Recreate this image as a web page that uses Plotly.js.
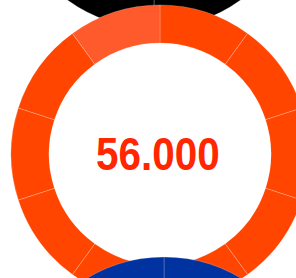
<!DOCTYPE html>
<html>
<head>
<meta charset="utf-8">
<script src="https://cdn.plot.ly/plotly-3.0.1.min.js"></script>
<style>
html,body{margin:0;padding:0;width:296px;height:278px;overflow:hidden;background:#fff;}
#chart{position:absolute;left:-50px;top:-400px;width:400px;height:1200px;}
#chart text.annotation-text{transform-box:fill-box;transform-origin:center;transform:scaleX(0.86);}
</style>
</head>
<body>
<div id="chart"></div>
<script>
// Data
const segmentLabels = ["S1","S2","S3","S4","S5","S6","S7","S8","S9","S10"];
const segmentValues = [1,1,1,1,1,1,1,1,1,1];
const centerValue = "56.000";

const orangeColors = ["#FF4500","#FF4500","#FF4500","#FF4500","#FF4500","#FF4500","#FF4500","#FF4500","#FF4500","#FF5A2B"];
const blackColors = segmentLabels.map(() => "#000000");
const blueColors = segmentLabels.map(() => "#0033A0");

const W = 400, H = 1200;
function dom(cx, cy, r) {
  return {
    x: [(cx - r) / W, (cx + r) / W],
    y: [1 - (cy + r) / H, 1 - (cy - r) / H]
  };
}
// centres in div pixels (page + offset)
const blackDom = dom(154 + 50, -120 + 400, 148);
const orangeDom = dom(160 + 50, 154 + 400, 149);
const blueDom = dom(164 + 50, 407 + 400, 150);

function pie(colors, domain, lineColor) {
  return {
    type: "pie",
    labels: segmentLabels,
    values: segmentValues,
    sort: false,
    direction: "clockwise",
    rotation: 0,
    hole: 0.745,
    textinfo: "none",
    hoverinfo: "none",
    marker: {colors: colors, line: {color: lineColor, width: 0.7}},
    domain: domain,
    showlegend: false
  };
}

const data = [
  pie(blackColors, blackDom, "rgba(255,255,255,0.35)"),
  pie(orangeColors, orangeDom, "rgba(255,255,255,0.3)"),
  pie(blueColors, blueDom, "rgba(255,255,255,0.3)")
];

const layout = {
  width: W, height: H,
  margin: {l: 0, r: 0, t: 0, b: 0},
  paper_bgcolor: "#ffffff",
  showlegend: false,
  annotations: [{
    text: centerValue,
    xref: "paper", yref: "paper",
    x: (158 + 50) / W, y: 1 - (153 + 400) / H,
    xanchor: "center", yanchor: "middle",
    showarrow: false,
    font: {family: "Liberation Sans, Arial, sans-serif", size: 47, weight: "bold", color: "#FF2600"}
  }]
};

Plotly.newPlot("chart", data, layout, {staticPlot: true, displayModeBar: false});
</script>
</body>
</html>
